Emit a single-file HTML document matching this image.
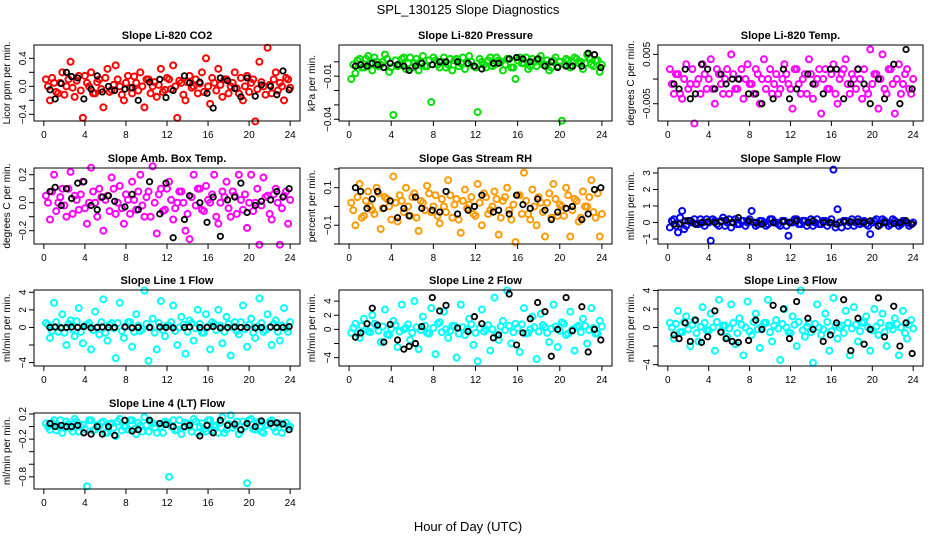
<!DOCTYPE html>
<html><head><meta charset="utf-8"><style>
body{margin:0;background:#fff}
svg{display:block;font-family:"Liberation Sans",sans-serif}
</style></head><body>
<svg id="c" width="936" height="540" viewBox="0 0 936 540">
<rect width="936" height="540" fill="#fff"/>
<text x="468" y="14" text-anchor="middle" font-size="13">SPL_130125  Slope Diagnostics</text>
<text x="468" y="531" text-anchor="middle" font-size="13">Hour of Day (UTC)</text>
</svg>
<script>
const H=[0.2,0.6,1.0,1.4,1.8,2.2,2.6,3.0,3.4,3.8,4.2,4.6,5.0,5.4,5.8,6.2,6.6,7.0,7.4,7.8,8.2,8.6,9.0,9.4,9.8,10.2,10.6,11.0,11.4,11.8,12.2,12.6,13.0,13.4,13.8,14.2,14.6,15.0,15.4,15.8,16.2,16.6,17.0,17.4,17.8,18.2,18.6,19.0,19.4,19.8,20.2,20.6,21.0,21.4,21.8,22.2,22.6,23.0,23.4,23.8];
const H2=[0.4,0.8,1.2,1.6,2.0,2.4,2.8,3.2,3.6,4.0,4.4,4.8,5.2,5.6,6.0,6.4,6.8,7.2,7.6,8.0,8.4,8.8,9.2,9.6,10.0,10.4,10.8,11.2,11.6,12.0,12.4,12.8,13.2,13.6,14.0,14.4,14.8,15.2,15.6,16.0,16.4,16.8,17.2,17.6,18.0,18.4,18.8,19.2,19.6,20.0,20.4,20.8,21.2,21.6,22.0,22.4,22.8,23.2,23.6,24.0];
const BH=[0.6,1.1,1.7,2.2,2.7,3.3,3.9,4.6,5.2,5.7,6.3,6.9,7.9,8.6,9.2,10.3,11.3,11.9,12.6,13.7,14.2,15.2,15.9,16.5,17.2,17.9,18.6,19.2,19.8,20.6,21.2,22.1,22.7,23.3,23.9];
const xTicks=[0,4,8,12,16,20,24];
const co2=[0.1,-0.2,0.05,-0.1,0.2,0.0,0.35,-0.15,0.15,-0.45,0.05,0.2,-0.1,0.1,-0.3,0.25,-0.05,0.3,0.0,-0.2,0.15,-0.1,0.05,0.2,-0.3,0.1,0.0,-0.15,0.25,-0.05,0.1,0.3,-0.45,0.05,-0.2,0.15,0.0,-0.1,0.2,0.4,-0.25,0.05,0.25,-0.15,0.1,0.0,0.2,-0.1,-0.2,0.15,0.05,-0.5,0.35,0.0,0.55,-0.1,0.2,0.05,-0.2,0.1];
const co2b=[0.0,0.12,-0.08,0.05,-0.12,0.1,-0.02,0.08,-0.06,0.15,0.0,-0.1,0.06,-0.04,0.12,-0.08,0.02,0.1,-0.12,0.05,-0.02,0.14,-0.06,0.0,0.1,-0.1,0.06,0.02,-0.08,0.12,-0.04,0.0,0.08,-0.12,0.06,-0.02,0.1,0.04,-0.08,0.0,0.12,-0.06,0.02,0.1,-0.1,0.05,-0.03,0.12,0.0,-0.08,0.1,-0.04,0.06,-0.12,0.02,0.1,-0.06,0.0,0.12,-0.02];
const co2B=[-0.05,-0.18,0.04,0.2,0.14,0.12,-0.18,-0.04,0.15,-0.08,0.0,-0.06,-0.04,-0.02,-0.2,0.06,0.1,-0.16,-0.06,0.15,0.05,0.06,-0.1,-0.31,0.12,0.08,-0.03,-0.15,0.12,-0.14,0.02,0.0,-0.12,0.22,-0.05];
const pres=[-0.012,-0.008,0.002,-0.004,0.004,-0.006,0.0,-0.002,0.005,-0.007,-0.037,-0.003,0.002,-0.005,0.003,-0.001,-0.006,0.004,-0.003,-0.028,0.001,-0.004,0.003,-0.002,-0.006,0.002,-0.001,-0.005,0.004,-0.003,-0.035,0.0,-0.004,0.003,-0.002,0.001,-0.006,0.002,-0.004,-0.012,0.003,-0.001,-0.005,0.002,-0.003,0.004,-0.002,-0.006,0.001,-0.003,-0.041,0.002,-0.004,0.003,-0.001,-0.005,0.005,-0.002,0.001,-0.007];
const presb=[-0.002,0.001,-0.004,0.002,-0.001,0.003,-0.003,0.0,0.002,-0.004,0.001,-0.002,0.003,-0.001,-0.004,0.002,0.0,-0.003,0.001,0.003,-0.002,0.0,-0.004,0.002,0.001,-0.003,0.003,-0.001,0.0,-0.004,0.002,-0.002,0.001,-0.003,0.003,0.0,-0.002,0.002,-0.004,0.001,-0.001,0.003,-0.003,0.0,0.002,-0.002,0.001,-0.004,0.003,0.0,-0.002,0.001,-0.003,0.002,0.0,-0.001,0.003,-0.003,0.001,-0.002];
const presB=[-0.003,-0.002,-0.003,-0.001,-0.002,-0.004,-0.001,-0.002,-0.003,-0.006,-0.003,-0.001,-0.002,0.0,0.0,0.0,-0.001,-0.003,-0.005,-0.001,-0.001,0.002,0.003,0.002,0.0,0.002,-0.003,0.0,-0.004,-0.003,-0.003,-0.003,0.006,0.005,-0.004];
const temp=[0.002,-0.003,0.001,-0.004,0.003,-0.001,-0.009,0.0,0.003,-0.002,0.004,-0.005,0.001,-0.003,0.002,0.005,-0.002,0.0,-0.004,0.003,-0.001,0.002,-0.005,0.004,0.0,-0.003,0.001,-0.002,0.003,-0.001,-0.006,0.002,-0.003,0.001,0.004,-0.004,0.0,-0.007,0.002,-0.002,0.003,-0.005,0.001,0.004,-0.003,0.0,0.002,-0.004,-0.002,0.006,0.001,-0.006,0.005,-0.003,0.002,-0.007,0.003,-0.001,0.002,-0.003];
const tempb=[-0.001,0.001,-0.003,0.0,-0.002,0.002,-0.001,-0.003,0.001,0.0,-0.002,0.002,-0.001,0.0,-0.003,0.001,-0.002,0.002,0.0,-0.001,-0.003,0.001,0.0,-0.002,0.002,-0.001,-0.003,0.0,0.001,-0.002,0.002,-0.001,0.0,-0.003,0.001,-0.001,0.002,0.0,-0.002,0.001,-0.003,0.0,0.002,-0.001,0.001,-0.002,0.0,0.002,-0.003,-0.001,0.001,0.0,-0.002,0.002,-0.001,0.0,-0.003,0.001,-0.002,0.0];
const tempB=[-0.001,-0.002,0.002,-0.004,-0.003,0.003,0.002,-0.002,0.001,-0.001,0.0,0.0,-0.003,-0.003,-0.005,-0.004,0.002,-0.004,-0.002,0.001,-0.001,-0.003,0.002,0.002,-0.004,-0.001,0.002,-0.001,-0.005,0.0,-0.004,0.003,-0.005,0.006,-0.002];
const amb=[0.05,-0.12,0.2,0.0,0.1,-0.1,0.22,0.05,-0.05,0.15,-0.15,0.25,0.0,0.1,-0.2,0.05,0.18,-0.08,0.12,-0.15,0.02,0.15,-0.05,0.2,-0.1,0.08,0.26,-0.22,0.1,-0.05,0.15,-0.12,0.0,0.08,-0.2,-0.26,0.2,0.1,-0.05,0.12,0.0,0.2,-0.15,0.08,0.15,-0.1,0.05,0.2,-0.05,-0.18,0.2,0.0,-0.3,0.18,0.05,-0.12,0.1,-0.3,0.05,-0.15];
const ambb=[0.0,0.08,-0.06,0.04,-0.02,0.1,-0.08,0.02,0.06,-0.04,0.0,0.08,-0.1,0.04,0.02,-0.06,0.1,0.0,-0.04,0.06,-0.08,0.02,0.08,-0.02,0.04,-0.1,0.0,0.06,-0.06,0.1,0.02,-0.04,0.08,0.0,-0.08,0.04,-0.02,0.1,-0.06,0.02,0.06,-0.1,0.0,0.04,-0.04,0.08,-0.08,0.02,0.06,0.0,-0.06,0.1,-0.02,0.04,-0.08,0.06,0.0,-0.04,0.08,0.02];
const ambB=[0.08,0.11,-0.02,0.1,0.03,0.14,0.15,-0.02,-0.05,0.04,0.05,0.01,-0.03,0.06,-0.05,0.15,-0.08,0.14,-0.25,-0.12,0.05,0.0,-0.14,0.04,-0.24,0.02,0.04,0.14,-0.07,-0.02,0.01,0.02,0.08,0.04,0.1];
const rh=[0.02,-0.1,0.12,-0.05,0.08,-0.02,0.1,-0.12,0.05,0.0,0.16,-0.08,0.03,0.1,-0.05,0.07,-0.13,0.02,0.11,-0.03,0.06,-0.09,0.0,0.14,-0.06,0.04,-0.14,0.09,0.01,-0.04,0.12,-0.1,0.05,-0.02,0.08,-0.15,0.03,0.1,-0.07,-0.19,0.06,0.18,-0.04,0.09,-0.1,0.02,-0.16,0.07,0.12,-0.05,0.0,0.1,-0.16,0.04,-0.08,0.08,0.0,0.14,-0.06,-0.16];
const rhb=[-0.02,0.05,-0.06,0.03,0.0,-0.04,0.07,-0.01,0.04,-0.07,0.02,0.06,-0.03,0.0,0.05,-0.06,0.03,-0.02,0.07,0.0,-0.05,0.04,-0.03,0.06,0.01,-0.07,0.03,-0.01,0.05,-0.05,0.02,0.07,-0.04,0.0,0.04,-0.06,0.05,-0.02,0.01,0.06,-0.04,0.03,-0.07,0.0,0.05,-0.03,0.02,-0.06,0.04,0.01,-0.05,0.06,-0.02,0.03,-0.06,0.0,0.05,-0.03,0.07,-0.04];
const rhB=[0.1,0.08,-0.01,0.04,0.08,-0.01,0.03,-0.06,-0.01,-0.05,0.05,-0.01,-0.02,-0.03,0.08,-0.04,-0.02,0.0,0.06,-0.03,-0.02,-0.04,0.06,0.01,-0.01,0.04,-0.02,-0.07,-0.03,-0.01,0.0,-0.07,-0.04,0.09,0.1];
const flow=[-0.3,0.2,-0.6,0.7,-0.2,0.1,0.2,-0.1,0.0,0.2,-1.1,0.1,-0.2,0.3,0.0,-0.3,0.2,-0.1,0.1,0.0,0.7,-0.2,0.1,0.0,-0.1,0.2,0.0,-0.2,0.1,-0.8,0.0,0.2,-0.1,0.1,0.0,-0.2,0.2,-0.1,0.1,0.0,3.2,0.8,-0.3,0.1,0.0,-0.2,0.2,0.0,-0.1,-0.7,0.1,-0.2,0.2,0.0,-0.1,0.1,-0.2,0.1,0.0,-0.1];
const flowb=[0.1,-0.2,0.3,-0.4,0.1,0.0,-0.1,0.2,-0.2,0.0,0.2,-0.1,0.1,-0.2,0.2,0.0,-0.1,0.1,-0.2,0.2,0.0,-0.1,0.1,-0.2,0.2,0.0,-0.1,0.1,-0.2,0.0,0.2,-0.1,0.1,-0.2,0.2,0.0,-0.1,0.1,-0.2,0.2,-0.3,0.0,0.1,-0.2,0.2,0.0,-0.1,0.1,-0.2,0.0,0.2,-0.1,0.1,-0.2,0.2,0.0,-0.1,0.1,-0.2,0.0];
const flowB=[-0.1,-0.1,0.1,0.1,-0.1,0.0,0.05,0.0,0.05,0.15,0.0,0.3,0.1,0.0,-0.1,0.0,0.05,0.0,0.1,0.0,0.1,0.0,0.0,-0.1,0.05,0.05,0.05,0.0,0.1,-0.2,0.0,-0.05,0.0,0.1,-0.1];
const l1=[0.5,-1.2,2.8,-0.5,1.5,-2.0,0.8,-1.0,2.2,-1.8,0.3,-2.5,1.8,-0.8,3.2,-1.5,0.5,-3.5,2.8,-1.2,0.6,-2.2,1.5,-0.4,4.2,-3.8,1.0,-2.5,3.0,-1.0,0.2,2.5,-2.0,1.2,-3.0,0.8,-1.5,2.0,-0.6,1.5,-2.5,0.4,2.0,-1.8,1.2,-3.2,0.6,-0.8,2.5,-2.2,1.0,-1.2,3.3,-0.5,1.5,-2.0,0.8,-1.5,2.2,-0.5];
const l1b=[0.3,-0.4,0.6,0.0,-0.6,0.4,-0.2,0.7,-0.5,0.2,0.5,-0.3,0.0,0.6,-0.6,0.3,-0.1,0.5,-0.4,0.1,0.6,-0.5,0.2,-0.2,0.4,0.0,-0.6,0.5,-0.3,0.2,0.6,-0.4,0.0,0.3,-0.5,0.5,-0.1,0.4,-0.6,0.1,0.6,-0.3,0.2,-0.5,0.4,0.0,-0.4,0.6,-0.2,0.3,-0.6,0.1,0.5,-0.3,0.0,0.4,-0.5,0.2,-0.1,0.6];
const l1B=[0.0,0.05,-0.05,0.0,0.05,0.0,0.1,-0.05,0.0,0.05,0.0,0.0,0.05,-0.05,0.0,0.0,0.05,0.0,-0.05,0.0,0.05,0.0,0.0,0.1,-0.05,0.0,0.05,0.0,0.0,-0.05,0.0,0.05,0.0,0.0,0.1];
const l2=[-0.5,0.8,-1.2,1.5,-0.3,2.0,0.5,-1.8,2.8,-0.8,1.2,-2.5,3.5,0.2,-1.5,4.0,-2.8,1.8,-0.5,3.0,-3.5,1.0,2.5,-1.2,0.5,-4.0,3.5,-0.8,1.5,-2.2,-4.5,2.8,0.0,-3.0,4.5,-1.5,1.2,5.5,-2.0,0.8,-3.2,3.0,-0.5,1.8,-4.2,2.2,0.3,-1.8,3.5,-2.5,1.0,-0.8,2.5,-3.0,0.5,1.5,-2.0,3.0,-0.6,1.2];
const l2b=[0.2,-0.6,0.5,0.0,-0.4,0.8,-0.2,0.4,-0.7,0.1,0.6,-0.3,0.0,0.7,-0.5,0.3,-0.1,0.5,-0.6,0.2,0.8,-0.4,0.0,-0.2,0.5,-0.6,0.3,0.0,0.7,-0.5,0.2,-0.3,0.6,0.0,-0.7,0.4,-0.1,0.5,-0.4,0.2,0.7,-0.6,0.0,0.3,-0.3,0.6,-0.5,0.1,0.4,-0.2,0.8,-0.6,0.0,0.3,-0.4,0.5,-0.1,0.2,-0.6,0.4];
const l2B=[-1.1,-0.5,0.8,3.0,0.6,-1.8,0.7,-1.5,-2.8,-2.4,-2.0,0.4,4.5,2.6,3.4,0.2,-0.3,1.8,0.8,-1.2,-0.8,5.0,-2.2,-0.5,1.5,3.8,2.5,-3.8,0.0,4.5,-0.2,3.2,-3.2,0.0,-1.5];
const l3=[0.5,-1.2,1.8,-0.5,1.2,-2.0,0.8,-1.5,2.2,-0.3,1.5,-2.5,3.0,0.2,-1.0,2.5,-1.8,1.0,-3.0,2.8,-0.8,1.5,-2.2,0.5,3.0,-1.5,0.8,-3.5,2.0,-0.5,1.2,-2.0,4.0,-1.0,0.5,-3.8,2.5,-0.8,1.5,-2.5,3.2,-1.2,0.2,1.8,-3.0,2.2,-1.5,0.5,1.2,-2.5,2.0,-0.8,1.5,-2.0,0.2,1.0,-3.0,1.8,-1.2,0.8];
const l3b=[0.0,0.4,-0.5,0.6,-0.2,0.3,-0.6,0.1,0.5,-0.3,0.0,0.6,-0.4,0.2,-0.1,0.5,-0.6,0.3,0.0,-0.4,0.6,-0.2,0.1,0.5,-0.5,0.2,-0.1,0.4,0.0,-0.6,0.3,0.6,-0.3,0.1,-0.5,0.4,0.0,-0.2,0.6,-0.4,0.2,0.0,-0.6,0.5,-0.1,0.3,-0.4,0.6,0.0,-0.3,0.1,0.5,-0.5,0.2,-0.2,0.4,0.0,-0.6,0.3,-0.1];
const l3B=[-0.8,-1.2,0.5,-1.5,0.8,-1.6,-1.0,1.8,-0.5,-1.2,-1.5,-1.6,-1.4,0.8,-0.2,2.4,2.0,-1.2,2.8,1.0,-0.2,-1.5,-0.8,0.5,3.0,-2.5,1.0,-1.8,-0.2,3.2,-1.0,2.3,-2.0,0.5,-2.8];
const l4=[0.05,-0.05,0.1,0.0,-0.1,0.08,-0.02,0.12,-0.08,0.03,-0.95,0.1,-0.05,0.0,0.08,-0.1,0.05,-0.15,0.12,0.0,-0.05,0.1,-0.12,0.02,0.15,-0.08,0.05,-0.1,0.0,0.08,-0.8,0.1,-0.05,-0.12,0.06,0.0,0.12,-0.1,0.05,-0.08,0.1,0.0,-0.1,0.15,-0.05,0.18,0.02,-0.12,0.08,-0.9,0.12,-0.05,0.08,-0.1,0.03,0.1,-0.08,0.05,-0.02,0.0];
const l4b=[0.0,0.06,-0.06,0.1,-0.02,0.04,-0.08,0.08,0.0,-0.04,0.1,-0.06,0.02,0.06,-0.1,0.04,-0.02,0.08,-0.06,0.0,0.1,-0.04,0.06,-0.08,0.02,0.08,-0.02,0.04,-0.1,0.06,0.0,-0.06,0.1,-0.02,0.04,-0.08,0.08,0.0,-0.04,0.1,-0.06,0.02,0.06,-0.1,0.04,-0.02,0.08,-0.06,0.0,0.1,-0.04,0.06,-0.08,0.02,0.08,-0.02,0.04,-0.1,0.06,0.0];
const l4B=[0.05,0.0,0.02,0.0,0.0,0.02,-0.1,-0.12,0.0,-0.12,0.0,-0.14,0.1,-0.07,-0.05,0.1,0.05,0.03,0.0,0.0,0.02,-0.15,0.02,-0.1,0.1,0.02,0.04,-0.05,0.05,0.0,0.09,0.05,0.06,0.04,-0.05];

const NS="http://www.w3.org/2000/svg";
const svg=document.getElementById('c');
const cols=[[34,300],[339,612],[658,923]];
const tops=[45,168,290,413];
const BOXH=76;
const panels=[
 {t:"Slope Li-820 CO2",yl:"Licor ppm per min.",c:"#ff0000",d:co2,d2:co2b,b:co2B,lim:[-0.495,0.59],ticks:[-0.4,-0.2,0,0.2,0.4],labs:["-0.4","","0.0","","0.4"]},
 {t:"Slope Li-820 Pressure",yl:"kPa per min.",c:"#00e000",d:pres,d2:presb,b:presB,lim:[-0.0412,0.0117],ticks:[-0.04,-0.03,-0.02,-0.01,0.0],labs:["-0.04","","","-0.01",""]},
 {t:"Slope Li-820 Temp.",yl:"degrees C per min.",c:"#ff00ff",d:temp,d2:tempb,b:tempB,lim:[-0.0085,0.0069],ticks:[-0.005,0,0.005],labs:["-0.005","","0.005"]},
 {t:"Slope Amb. Box Temp.",yl:"degrees C per min.",c:"#ff00ff",d:amb,d2:ambb,b:ambB,lim:[-0.295,0.248],ticks:[-0.2,-0.1,0,0.1,0.2],labs:["-0.2","","0.0","","0.2"]},
 {t:"Slope Gas Stream RH",yl:"percent per min.",c:"#ff9a00",d:rh,d2:rhb,b:rhB,lim:[-0.2,0.205],ticks:[-0.2,-0.1,0,0.1,0.2],labs:["","-0.1","","0.1",""]},
 {t:"Slope Sample Flow",yl:"ml/min per min.",c:"#0000ff",d:flow,d2:flowb,b:flowB,lim:[-1.3,3.3],ticks:[-1,0,1,2,3],labs:["-1","0","1","2","3"]},
 {t:"Slope Line 1 Flow",yl:"ml/min per min.",c:"#00ffff",d:l1,d2:l1b,b:l1B,lim:[-4.39,4.26],ticks:[-4,-2,0,2,4],labs:["-4","","0","2","4"]},
 {t:"Slope Line 2 Flow",yl:"ml/min per min.",c:"#00ffff",d:l2,d2:l2b,b:l2B,lim:[-5.18,5.57],ticks:[-4,-2,0,2,4],labs:["-4","","0","2","4"]},
 {t:"Slope Line 3 Flow",yl:"ml/min per min.",c:"#00ffff",d:l3,d2:l3b,b:l3B,lim:[-4.15,4.05],ticks:[-4,-2,0,2,4],labs:["-4","","0","2","4"]},
 {t:"Slope Line 4 (LT) Flow",yl:"ml/min per min.",c:"#00ffff",d:l4,d2:l4b,b:l4B,lim:[-0.994,0.216],ticks:[-0.8,-0.6,-0.4,-0.2,0,0.2],labs:["-0.8","","","-0.2","","0.2"]}
];
function el(tag,attrs,parent,txt){const e=document.createElementNS(NS,tag);for(const k in attrs)e.setAttribute(k,attrs[k]);if(txt!==undefined)e.textContent=txt;(parent||svg).appendChild(e);return e;}
panels.forEach((p,i)=>{
 const [L,R]=cols[i%3];const T=tops[Math.floor(i/3)];const B=T+BOXH;
 const pad=(R-L)/1.08*0.04;
 const xs=h=>L+pad+(h/24)*(R-L-2*pad);
 const ys=v=>B-(v-p.lim[0])/(p.lim[1]-p.lim[0])*BOXH;
 const g=el('g',{});
 
 
 const tt=el('text',{x:(L+R)/2,y:T-6,'text-anchor':'middle','font-size':11,'font-weight':'bold'},g,p.t);
 
 
 const pts=el('g',{fill:'none','stroke-width':2},g);
 
 
 p.d.forEach((v,k)=>{const c=el('circle',{cx:xs(H[k]),cy:ys(v),r:3,stroke:p.c},pts);
  
  });
 p.d2.forEach((v,k)=>{const c=el('circle',{cx:xs(H2[k]),cy:ys(v),r:3,stroke:p.c},pts);
  
  });
 const bp=el('g',{fill:'none','stroke-width':1.8,stroke:'#000'},g);
 
 
 p.b.forEach((v,k)=>{const c=el('circle',{cx:xs(BH[k]),cy:ys(v),r:2.7},bp);
  
  });
 const box=el('rect',{x:L,y:T,width:R-L,height:BOXH,fill:'none',stroke:'#000','stroke-width':1},g);
 
 
 xTicks.forEach(h=>{
  el('line',{x1:xs(h),x2:xs(h),y1:B,y2:B+5,stroke:'#000'},g);
  const t=el('text',{x:xs(h),y:B+17,'text-anchor':'middle','font-size':10},g,h);
  
  
 });
 p.ticks.forEach((v,k)=>{
  const y=ys(v);
  el('line',{x1:L-5,x2:L,y1:y,y2:y,stroke:'#000'},g);
  if(p.labs[k]){const t=el('text',{x:L-8,y:y,'text-anchor':'middle','font-size':10,transform:`rotate(-90 ${L-8} ${y})`},g,p.labs[k].replace('-','\u2212'));
   
   }
 });
 const yt=el('text',{x:L-24,y:(T+B)/2,'text-anchor':'middle','font-size':10,transform:`rotate(-90 ${L-24} ${(T+B)/2})`},g,p.yl);
 
 
});
</script>
</body></html>
